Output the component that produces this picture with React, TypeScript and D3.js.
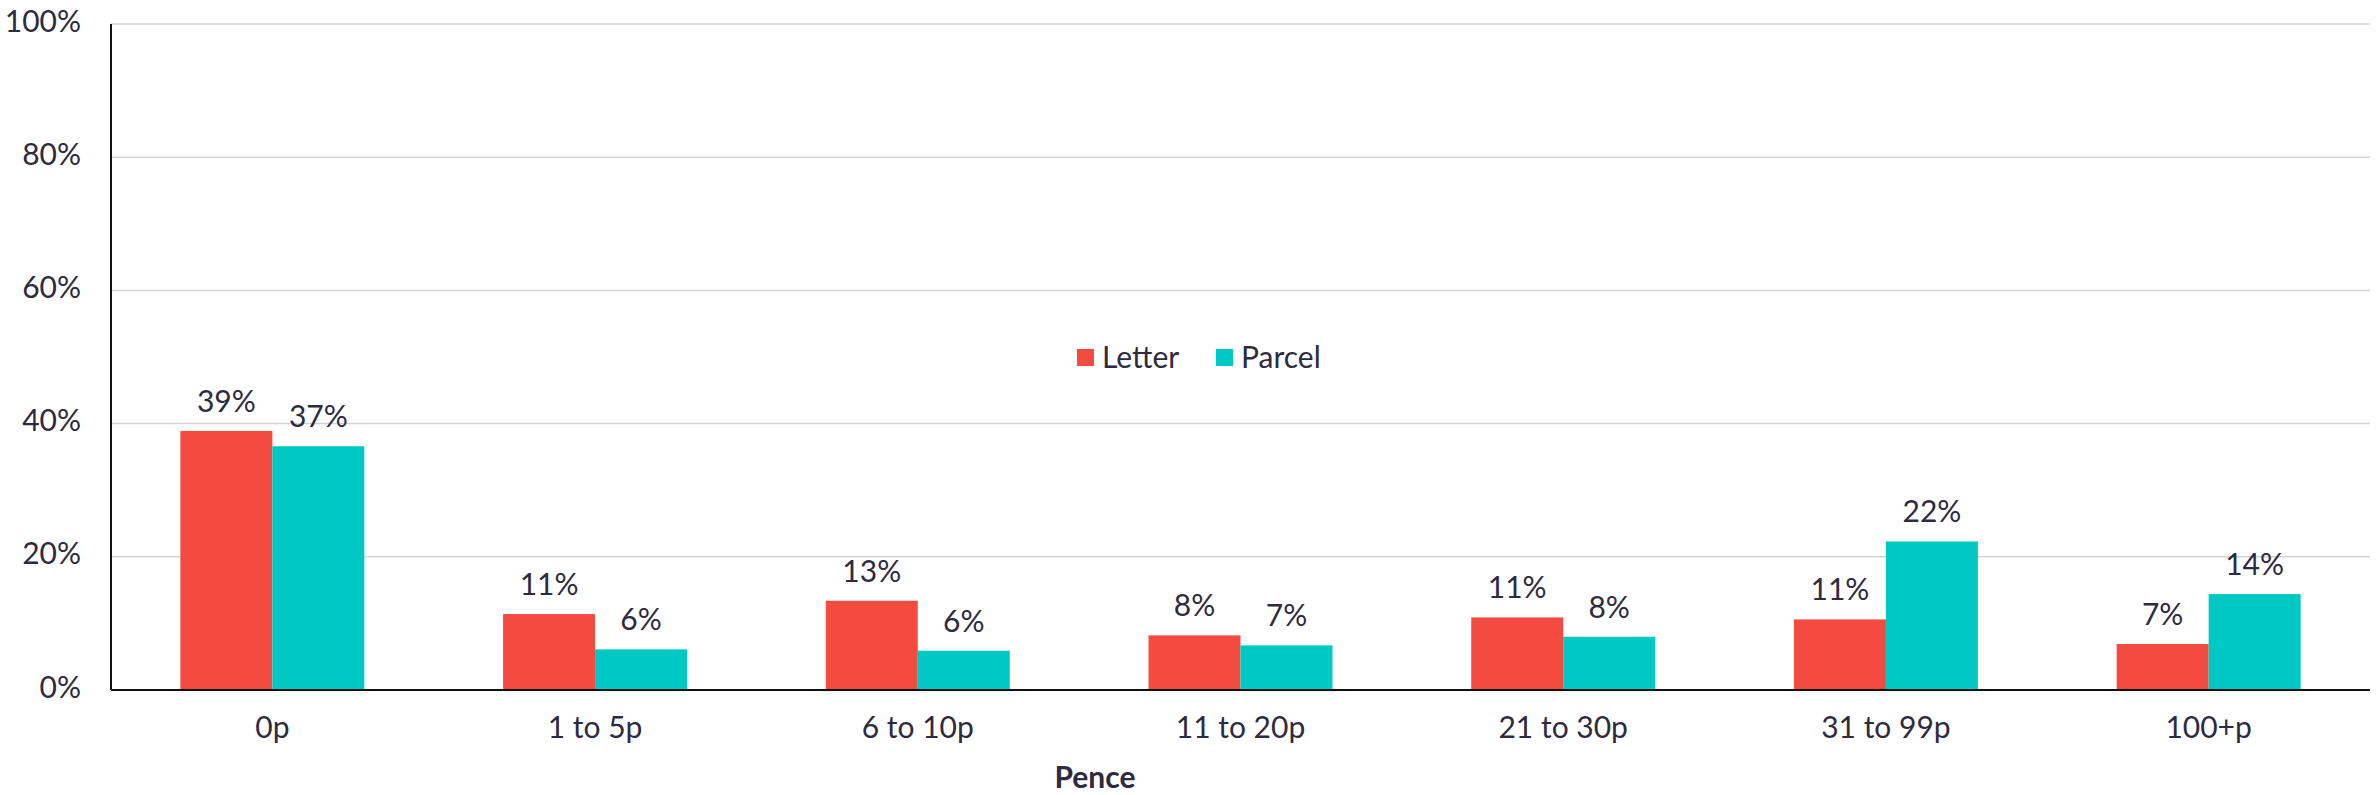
import React from "react";
import * as d3 from "d3";

const categories = ["0p", "1 to 5p", "6 to 10p", "11 to 20p", "21 to 30p", "31 to 99p", "100+p"];
const seriesNames = ["Letter", "Parcel"];
const letterValues = [38.9, 11.4, 13.4, 8.2, 10.9, 10.6, 6.9];
const parcelValues = [36.6, 6.1, 5.9, 6.7, 8.0, 22.3, 14.4];
const letterLabels = ["39%", "11%", "13%", "8%", "11%", "11%", "7%"];
const parcelLabels = ["37%", "6%", "6%", "7%", "8%", "22%", "14%"];
const yTicks = [0, 20, 40, 60, 80, 100];
const colors = ["#F44B40", "#00C8C4"];

const W = 2377;
const H = 795;
const left = 111;
const right = 2370;
const top = 24;
const bottom = 690;
const FONT = "Lato, 'Noto Sans', sans-serif";
const TEXT = "#2e2a40";

export default function App() {
  const x = d3.scaleBand<string>().domain(categories).range([left, right]).padding(0);
  const groupFrac = 0.57;
  const xs = d3
    .scaleBand<string>()
    .domain(seriesNames)
    .range([0, x.bandwidth() * groupFrac])
    .padding(0);
  const y = d3.scaleLinear().domain([0, 100]).range([bottom, top]);
  const series = [
    { name: "Letter", values: letterValues, labels: letterLabels, color: colors[0] },
    { name: "Parcel", values: parcelValues, labels: parcelLabels, color: colors[1] },
  ];
  const groupOffset = (x.bandwidth() * (1 - groupFrac)) / 2;

  return (
    <svg
      width={W}
      height={H}
      style={{ position: "absolute", left: 0, top: 0, background: "#fff" }}
      fontFamily={FONT}
    >
      {yTicks.map((t) => (
        <g key={t}>
          {t > 0 && (
            <line x1={left} x2={right} y1={y(t)} y2={y(t)} stroke="#d4d4d4" strokeWidth={1.5} />
          )}
          <text
            x={81}
            y={y(t)}
            textAnchor="end"
            dominantBaseline="middle"
            fontSize={30}
            fill={TEXT}
          >
            {t}%
          </text>
        </g>
      ))}
      {series.map((s) =>
        categories.map((c, i) => {
          const bx = (x(c) as number) + groupOffset + (xs(s.name) as number);
          const by = y(s.values[i]);
          return (
            <g key={s.name + c}>
              <rect
                x={bx}
                y={by}
                width={xs.bandwidth()}
                height={bottom - by}
                fill={s.color}
              />
              <text
                x={bx + xs.bandwidth() / 2}
                y={by - 19}
                textAnchor="middle"
                fontSize={30}
                fill={TEXT}
              >
                {s.labels[i]}
              </text>
            </g>
          );
        })
      )}
      <line x1={left} x2={left} y1={top} y2={bottom} stroke="#111" strokeWidth={2} />
      <line x1={left} x2={right} y1={bottom} y2={bottom} stroke="#111" strokeWidth={2} />
      {categories.map((c) => (
        <text
          key={c}
          x={(x(c) as number) + x.bandwidth() / 2}
          y={738}
          textAnchor="middle"
          fontSize={30}
          fill={TEXT}
        >
          {c}
        </text>
      ))}
      <text x={1095} y={788} textAnchor="middle" fontSize={30} fontWeight="bold" fill={TEXT}>
        Pence
      </text>
      {series.map((s, i) => (
        <g key={s.name} transform={`translate(${1077 + i * 139},349)`}>
          <rect width={17} height={17} fill={s.color} />
          <text x={25} y={19} fontSize={30} fill={TEXT}>
            {s.name}
          </text>
        </g>
      ))}
    </svg>
  );
}
